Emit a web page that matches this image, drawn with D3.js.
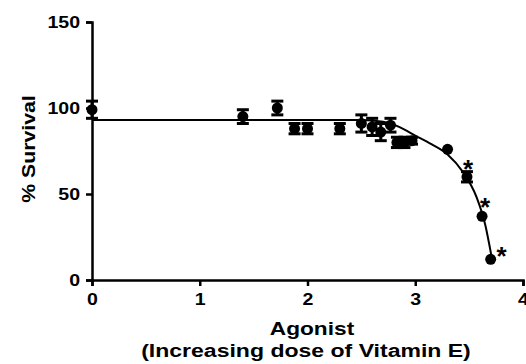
<!DOCTYPE html>
<html>
<head>
<meta charset="utf-8">
<script src="https://cdn.jsdelivr.net/npm/d3@7"></script>
<style>
  body { margin: 0; background: #fff; }
  svg text { font-family: "Liberation Sans", Arial, sans-serif; font-weight: bold; fill: #000; }
</style>
</head>
<body>
<div id="chart"></div>
<script>
// agonist dose (x), % survival (mean), SEM
const doses = [0, 1.4, 1.72, 1.88, 2.0, 2.3, 2.5, 2.6, 2.68, 2.77, 2.83, 2.9, 2.97, 3.3, 3.48, 3.62, 3.7];
const survival = [99, 95, 100, 88, 88, 88, 91, 89, 86, 90, 80, 80, 81, 76, 60, 37, 12];
const sem = [5, 4, 4, 3, 3, 3, 5, 5, 5, 4, 3, 3, 2, 0, 3, 0, 0];
const significant = [3.48, 3.62, 3.7];

// fitted curve
const curveX = [0, 2.5, 2.7, 2.85, 3.0, 3.15, 3.3, 3.44, 3.57, 3.65, 3.71];
const curveY = [93, 93, 92, 89, 84, 79, 73, 63, 48, 32, 13];

const xTicks = [0, 1, 2, 3, 4];
const yTicks = [0, 50, 100, 150];

const width = 526, height = 364;
const margin = { top: 22, right: 3, bottom: 84, left: 92 };

const svg = d3.select('#chart').append('svg')
  .attr('width', width)
  .attr('height', height);

const x = d3.scaleLinear().domain([0, 4]).range([margin.left, width - margin.right]);
const y = d3.scaleLinear().domain([0, 150]).range([height - margin.bottom, margin.top]);

const data = doses.map((d, i) => ({ x: d, y: survival[i], e: sem[i] }));

// stretch text horizontally like the source image
function widen(sel, k) {
  sel.each(function () {
    const t = d3.select(this);
    const bx = +t.attr('x') || 0;
    t.attr('transform', `translate(${bx},0) scale(${k},1) translate(${-bx},0)`);
  });
}

// axes
svg.append('g')
  .attr('transform', `translate(0,${y(0)})`)
  .call(d3.axisBottom(x).tickValues(xTicks).tickSize(6).tickPadding(7).tickFormat(d3.format('d')));
svg.append('g')
  .attr('transform', `translate(${x(0)},0)`)
  .call(d3.axisLeft(y).tickValues(yTicks).tickSize(6).tickPadding(6).tickFormat(d3.format('d')));

svg.selectAll('.domain, .tick line').attr('stroke', '#000').attr('stroke-width', 2.5);
svg.selectAll('.tick text')
  .attr('font-size', 17)
  .attr('font-family', '"Liberation Sans", Arial, sans-serif')
  .attr('transform', 'scale(1.15,1)')
  .attr('x', function () { return (+d3.select(this).attr('x') || 0) / 1.15; });

// fitted curve
svg.append('path')
  .datum(curveX.map((d, i) => ({ x: d, y: curveY[i] })))
  .attr('fill', 'none')
  .attr('stroke', '#000')
  .attr('stroke-width', 2)
  .attr('d', d3.line().x(d => x(d.x)).y(d => y(d.y)).curve(d3.curveMonotoneX));

// error bars
const withErr = data.filter(d => d.e > 0);
const bars = svg.append('g').attr('stroke', '#000').attr('stroke-width', 3);
bars.selectAll('line.v').data(withErr).join('line')
  .attr('class', 'v')
  .attr('x1', d => x(d.x)).attr('x2', d => x(d.x))
  .attr('y1', d => y(d.y - d.e)).attr('y2', d => y(d.y + d.e));
bars.selectAll('line.top').data(withErr).join('line')
  .attr('class', 'top')
  .attr('x1', d => x(d.x) - 6).attr('x2', d => x(d.x) + 6)
  .attr('y1', d => y(d.y + d.e)).attr('y2', d => y(d.y + d.e));
bars.selectAll('line.bot').data(withErr).join('line')
  .attr('class', 'bot')
  .attr('x1', d => x(d.x) - 6).attr('x2', d => x(d.x) + 6)
  .attr('y1', d => y(d.y - d.e)).attr('y2', d => y(d.y - d.e));

// points
svg.selectAll('circle').data(data).join('circle')
  .attr('cx', d => x(d.x))
  .attr('cy', d => y(d.y))
  .attr('r', 5.5)
  .attr('fill', '#000');

// significance stars (offsets so they sit clear of the marker)
const starDx = [1, 3, 11];
const starDy = [-8, -14, -8];
svg.selectAll('text.star').data(data.filter(d => significant.includes(d.x))).join('text')
  .attr('class', 'star')
  .attr('x', (d, i) => x(d.x) + starDx[i])
  .attr('y', (d, i) => y(d.y + d.e) + starDy[i] + 14)
  .attr('text-anchor', 'middle')
  .attr('font-size', 26)
  .text('*');

// axis titles
const title1 = svg.append('text')
  .attr('x', 312).attr('y', 335)
  .attr('text-anchor', 'middle')
  .attr('font-size', 18)
  .text('Agonist');
const title2 = svg.append('text')
  .attr('x', 306).attr('y', 357)
  .attr('text-anchor', 'middle')
  .attr('font-size', 18)
  .text('(Increasing dose of Vitamin E)');
widen(title1, 1.26);
widen(title2, 1.28);

svg.append('text')
  .attr('transform', 'translate(35,149) rotate(-90) scale(1.18,1)')
  .attr('text-anchor', 'middle')
  .attr('font-size', 18)
  .text('% Survival');
</script>
</body>
</html>
